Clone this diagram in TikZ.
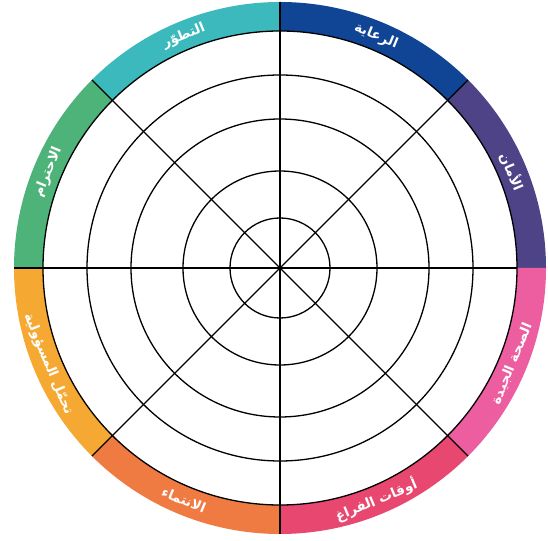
\documentclass[tikz,border=0pt]{standalone}
\usepackage{fontspec}
\newfontfamily\arabicfont[Script=Arabic]{DejaVu Sans}
\TeXXeTstate=1
\definecolor{cBlue}{HTML}{104596}
\definecolor{cPurple}{HTML}{4E4387}
\definecolor{cPink}{HTML}{EC5E9F}
\definecolor{cRed}{HTML}{E8476F}
\definecolor{cOrange}{HTML}{F07B42}
\definecolor{cYellow}{HTML}{F5A933}
\definecolor{cGreen}{HTML}{4DB379}
\definecolor{cTeal}{HTML}{3CB9BC}
\tikzset{
  ring/.style={draw=black, line width=1.3pt},
  spoke/.style={draw=black, line width=1.3pt},
  lab/.style={text=white, font=\arabicfont\bfseries\fontsize{13.5}{15}\selectfont, inner sep=0pt}
}
\begin{document}
\begin{tikzpicture}[x=1pt,y=1pt]
\useasboundingbox (0,0) rectangle (548,540);
\begin{scope}[shift={(280,272)}]
\coordinate (c) at (0,0);
\foreach \a/\col in {45/cBlue,0/cPurple,-45/cPink,-90/cRed,-135/cOrange,-180/cYellow,135/cGreen,90/cTeal}{
  \pgfmathsetmacro{\b}{\a+45}
  \fill[\col] (\a:237) arc[start angle=\a, end angle=\b, radius=237] -- (\b:266) arc[start angle=\b, end angle=\a, radius=266] -- cycle;
}
\foreach \r in {50,97,149,193,237}{
  \draw[ring] (c) circle[radius=\r];
}
\coordinate (e0) at (0:237);
\foreach \a in {45,90,135,180,225,270,315}{
  \coordinate (e\a) at (\a:266);
}
\foreach \a in {0,45,90,135,180,225,270,315}{
  \draw[spoke] (c) -- (e\a);
}
\node[lab, rotate=-22.5] (l1) at (67.5:251) {\beginR الرعاية\endR};
\node[lab, rotate=-67.5] (l2) at (22.5:251) {\beginR الأمان\endR};
\node[lab, rotate=67.5] (l3) at (-22.5:251) {\beginR الصحة الجيدة\endR};
\node[lab, rotate=22.5] (l4) at (-67.5:251) {\beginR أوقات الفراغ\endR};
\node[lab, rotate=-22.5] (l5) at (-112.5:251) {\beginR الانتماء\endR};
\node[lab, rotate=-67.5] (l6) at (-157.5:251) {\beginR تحمّل المسؤولية\endR};
\node[lab, rotate=67.5] (l7) at (157.5:251) {\beginR الاحترام\endR};
\node[lab, rotate=22.5] (l8) at (112.5:251) {\beginR التطوّر\endR};
\end{scope}
\end{tikzpicture}
\end{document}
